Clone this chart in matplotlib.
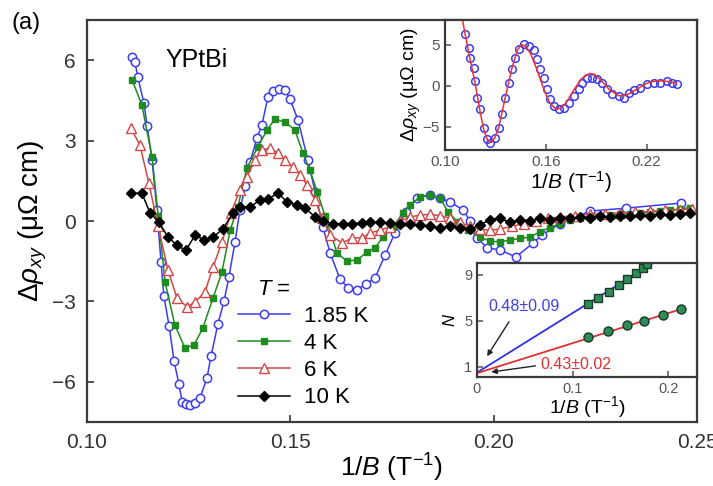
import matplotlib
matplotlib.use('Agg')
import matplotlib.pyplot as plt

plt.rcParams['font.family'] = ['Liberation Sans', 'DejaVu Sans']
plt.rcParams['mathtext.fontset'] = 'custom'
plt.rcParams['mathtext.rm'] = 'Liberation Sans'
plt.rcParams['mathtext.it'] = 'Liberation Sans:italic'

# main panel data, 1/B (T^-1) vs delta rho_xy (uOhm cm)
x_185 = [0.1111, 0.1118, 0.1125, 0.1140, 0.1148, 0.1160, 0.1172, 0.1182, 0.1189, 0.1202,
         0.1214, 0.1226, 0.1234, 0.1243, 0.1253, 0.1266, 0.1278, 0.1295, 0.1305, 0.1322,
         0.1337, 0.1349, 0.1364, 0.1376, 0.1389, 0.1401, 0.1418, 0.1430, 0.1445, 0.1457,
         0.1472, 0.1487, 0.1499, 0.1519, 0.1543, 0.1561, 0.1580, 0.1598, 0.1622, 0.1642,
         0.1664, 0.1686, 0.1708, 0.1733, 0.1757, 0.1784, 0.1811, 0.1843, 0.1868, 0.1893,
         0.1925, 0.1942, 0.1959, 0.1984, 0.2015, 0.2055, 0.2097, 0.2119, 0.2163, 0.2237,
         0.2325, 0.2461]
y_185 = [6.12, 5.93, 5.37, 4.40, 3.54, 2.28, 0.40, -1.52, -2.80, -3.92,
         -5.22, -6.08, -6.75, -6.83, -6.87, -6.79, -6.60, -5.86, -5.04, -3.84,
         -2.99, -2.09, -0.78, 0.40, 1.30, 2.20, 3.10, 3.58, 4.63, 4.85,
         4.93, 4.89, 4.55, 3.77, 2.28, 1.08, -0.22, -1.20, -2.16, -2.50,
         -2.57, -2.35, -2.13, -1.27, -0.45, 0.35, 0.86, 0.97, 0.86, 0.71,
         0.41, 0.00, -0.63, -1.00, -1.08, -1.34, -0.82, -0.52, -0.10, 0.37,
         0.48, 0.67]

x_4 = [0.1111, 0.1135, 0.1160, 0.1175, 0.1192, 0.1216, 0.1241, 0.1263, 0.1285, 0.1310,
       0.1332, 0.1352, 0.1371, 0.1393, 0.1420, 0.1443, 0.1462, 0.1487, 0.1511, 0.1531,
       0.1548, 0.1566, 0.1585, 0.1615, 0.1639, 0.1664, 0.1688, 0.1708, 0.1728, 0.1752,
       0.1777, 0.1794, 0.1819, 0.1843, 0.1868, 0.1888, 0.1912, 0.1937, 0.1966, 0.1991,
       0.2015, 0.2040, 0.2065, 0.2089, 0.2114, 0.2138, 0.2163, 0.2188, 0.2212, 0.2237,
       0.2261, 0.2286, 0.2311, 0.2335, 0.2360, 0.2384, 0.2409, 0.2433, 0.2458, 0.2483]
y_4 = [5.26, 4.33, 2.39, 0.20, -2.28, -3.88, -4.74, -4.63, -3.99, -2.87,
       -1.90, -0.34, 0.52, 1.98, 2.76, 3.40, 3.80, 3.69, 3.40, 2.54,
       1.90, 1.10, 0.20, -1.20, -1.49, -1.46, -1.16, -1.00, -0.60, -0.22,
       0.30, 0.60, 0.90, 0.97, 0.86, 0.34, -0.04, -0.35, -0.60, -0.75,
       -0.78, -0.71, -0.65, -0.60, -0.40, -0.25, -0.10, 0.04, 0.12, 0.18,
       0.20, 0.22, 0.25, 0.28, 0.30, 0.33, 0.37, 0.40, 0.45, 0.50]

x_6 = [0.1108, 0.1130, 0.1152, 0.1175, 0.1199, 0.1221, 0.1246, 0.1266, 0.1290, 0.1310,
       0.1332, 0.1354, 0.1376, 0.1393, 0.1413, 0.1430, 0.1450, 0.1470, 0.1487, 0.1507,
       0.1524, 0.1541, 0.1561, 0.1578, 0.1598, 0.1627, 0.1652, 0.1676, 0.1696, 0.1720,
       0.1745, 0.1770, 0.1794, 0.1819, 0.1843, 0.1868, 0.1893, 0.1917, 0.1942, 0.1966,
       0.1991, 0.2015, 0.2045, 0.2074, 0.2104, 0.2134, 0.2163, 0.2200, 0.2237, 0.2274,
       0.2311, 0.2347, 0.2384, 0.2421, 0.2458, 0.2488]
y_6 = [3.47, 2.84, 1.42, -0.20, -1.83, -2.87, -3.20, -3.02, -2.65, -1.72,
       -0.78, 0.30, 1.16, 1.64, 2.28, 2.65, 2.72, 2.54, 2.28, 2.01,
       1.72, 1.34, 0.78, 0.10, -0.52, -0.82, -0.63, -0.63, -0.45, -0.34,
       -0.22, 0.00, 0.15, 0.22, 0.25, 0.20, 0.10, -0.05, -0.20, -0.30,
       -0.35, -0.30, -0.20, -0.10, 0.00, 0.10, 0.15, 0.20, 0.25, 0.28,
       0.30, 0.33, 0.36, 0.40, 0.42, 0.45]

x_10 = [0.1108, 0.1135, 0.1155, 0.1177, 0.1199, 0.1221, 0.1243, 0.1266, 0.1288, 0.1310,
        0.1334, 0.1359, 0.1376, 0.1401, 0.1425, 0.1445, 0.1470, 0.1492, 0.1516, 0.1536,
        0.1561, 0.1580, 0.1605, 0.1629, 0.1652, 0.1676, 0.1696, 0.1720, 0.1745, 0.1770,
        0.1794, 0.1819, 0.1843, 0.1868, 0.1893, 0.1917, 0.1942, 0.1966, 0.1991, 0.2015,
        0.2040, 0.2065, 0.2089, 0.2114, 0.2138, 0.2163, 0.2188, 0.2212, 0.2237, 0.2261,
        0.2286, 0.2311, 0.2335, 0.2360, 0.2384, 0.2409, 0.2433, 0.2458, 0.2483]
y_10 = [1.04, 1.04, 0.30, -0.04, -0.60, -0.90, -1.10, -0.52, -0.71, -0.60,
        -0.30, 0.30, 0.52, 0.52, 0.78, 0.82, 1.04, 0.71, 0.60, 0.49,
        0.15, 0.00, -0.11, -0.10, -0.10, -0.08, -0.05, -0.05, -0.08, -0.10,
        -0.12, -0.15, -0.20, -0.25, -0.20, -0.25, -0.30, -0.15, 0.05, 0.10,
        -0.05, 0.05, 0.00, 0.10, 0.05, 0.12, 0.10, 0.15, 0.12, 0.18,
        0.15, 0.20, 0.18, 0.22, 0.20, 0.25, 0.22, 0.28, 0.30]

labels = ['1.85 K', '4 K', '6 K', '10 K']

# upper inset: 1.85 K data and LK fit
ins_x = [0.1119, 0.1143, 0.1149, 0.1172, 0.1178, 0.1190, 0.1208, 0.1232, 0.1250, 0.1267,
         0.1297, 0.1321, 0.1339, 0.1357, 0.1380, 0.1398, 0.1416, 0.1440, 0.1469, 0.1499,
         0.1529, 0.1547, 0.1564, 0.1588, 0.1606, 0.1624, 0.1648, 0.1677, 0.1707, 0.1737,
         0.1767, 0.1796, 0.1814, 0.1844, 0.1873, 0.1903, 0.1933, 0.1963, 0.1992, 0.2034,
         0.2064, 0.2093, 0.2123, 0.2159, 0.2200, 0.2242, 0.2278, 0.2319, 0.2349, 0.2378]
ins_y = [6.3, 4.6, 3.4, 2.2, 0.6, -1.5, -2.8, -5.1, -6.5, -6.9,
         -6.3, -5.1, -3.4, -1.5, 0.4, 2.1, 3.4, 4.5, 5.1, 4.9,
         4.3, 3.3, 2.1, 0.9, -0.4, -1.6, -2.4, -2.8, -2.7, -2.1,
         -1.2, -0.4, 0.4, 1.0, 1.0, 0.85, 0.4, -0.4, -1.0, -1.2,
         -1.46, -0.85, -0.5, -0.25, 0.24, 0.37, 0.37, 0.6, 0.37, 0.24]
fit_x = [0.1105, 0.1119, 0.1149, 0.1178, 0.1208, 0.1232, 0.1255, 0.1275, 0.1297, 0.1321,
         0.1357, 0.1398, 0.1430, 0.1455, 0.1480, 0.1510, 0.1547, 0.1588, 0.1624, 0.1660,
         0.1690, 0.1720, 0.1767, 0.1814, 0.1860, 0.1890, 0.1933, 0.1980, 0.2034, 0.2070,
         0.2110, 0.2159, 0.2200, 0.2242, 0.2290, 0.2335, 0.2378]
fit_y = [8.0, 6.4, 3.3, 0.5, -3.0, -5.4, -6.7, -6.9, -6.3, -5.0,
         -1.6, 2.1, 4.3, 5.0, 4.8, 3.9, 2.0, -0.4, -2.1, -2.8,
         -2.7, -2.1, -0.5, 0.9, 1.5, 1.4, 0.6, -0.5, -1.2, -1.2,
         -0.8, -0.2, 0.3, 0.55, 0.6, 0.5, 0.35]

# lower inset: Landau level index N vs 1/B
ll_x_sq = [0.1156, 0.127, 0.1375, 0.148, 0.157, 0.166, 0.174, 0.178]
ll_n_sq = [6.4, 7.0, 7.5, 8.1, 8.6, 9.1, 9.6, 9.9]
ll_x_ci = [0.1156, 0.1365, 0.157, 0.175, 0.194, 0.2135]
ll_n_ci = [3.6, 4.1, 4.6, 5.0, 5.5, 6.0]
line_x_sq = [0.0, 0.184]
line_n_sq = [0.48, 10.0]
line_x_ci = [0.0, 0.2135]
line_n_ci = [0.43, 6.0]

blue = '#3c3cf0'
green = '#1e8c1e'
red = '#d04848'
spine_c = '#3a3a3a'

fig = plt.figure(figsize=(7.13, 4.86), dpi=100)
ax = fig.add_axes([0.122, 0.1317, 0.8556, 0.8271])

ax.plot(x_185, y_185, '-o', color=blue, mfc='white', mec=blue, ms=6, lw=1.1, mew=1.1, label=labels[0])
ax.plot(x_4, y_4, '-s', color=green, mfc=green, mec=green, ms=5, lw=1.1, label=labels[1])
ax.plot(x_6, y_6, '-^', color=red, mfc='white', mec=red, ms=6.5, lw=1.1, mew=1.0, label=labels[2])
ax.plot(x_10, y_10, '-D', color='black', mfc='black', ms=5, lw=1.1, label=labels[3])

ax.set_xlim(0.10, 0.25)
ax.set_ylim(-7.5, 7.5)
ax.set_xticks([0.10, 0.15, 0.20, 0.25])
ax.set_xticklabels(['0.10', '0.15', '0.20', '0.25'])
ax.set_yticks([-6, -3, 0, 3, 6])
ax.tick_params(direction='in', length=5, width=1.2, labelsize=15, colors='#333333', pad=8)
for s in ax.spines.values():
    s.set_color(spine_c)
    s.set_linewidth(1.6)
ax.set_xlabel('1/$\\mathit{B}$ (T$^{-1}$)', fontsize=19, labelpad=0)
ax.set_ylabel('$\\mathit{Δρ}_{xy}$ (μΩ cm)', fontsize=20, labelpad=2)

ax.text(0.1192, 6.0, 'YPtBi', fontsize=18, va='center', ha='left')
fig.text(0.016, 0.953, '(a)', fontsize=17, va='center', ha='left')
ax.text(0.1418, -2.55, '$\\mathit{T}$ =', fontsize=16, va='center', ha='left')
ax.legend(loc='upper left', bbox_to_anchor=(0.2475, 0.289), frameon=False, fontsize=16,
          handlelength=2.35, handletextpad=0.6, labelspacing=0.28, borderpad=0, borderaxespad=0)

# upper inset
ax1 = fig.add_axes([0.624, 0.6914, 0.3536, 0.2674])
ax1.plot(ins_x, ins_y, 'o', mfc='none', mec=blue, ms=5.5, mew=1.1)
ax1.plot(fit_x, fit_y, '-', color='#f03030', lw=1.1)
ax1.set_xlim(0.10, 0.25)
ax1.set_ylim(-7.8, 8.0)
ax1.set_xticks([0.10, 0.16, 0.22])
ax1.set_xticklabels(['0.10', '0.16', '0.22'])
ax1.set_yticks([-5, 0, 5])
ax1.tick_params(direction='in', length=4, width=1.1, labelsize=11, colors='#555555')
for s in ax1.spines.values():
    s.set_color(spine_c)
    s.set_linewidth(1.6)
ax1.set_xlabel('1/$\\mathit{B}$ (T$^{-1}$)', fontsize=15, labelpad=0)
ax1.set_ylabel('$\\mathit{Δρ}_{xy}$ (μΩ cm)', fontsize=14, labelpad=0)

# lower inset
ax2 = fig.add_axes([0.669, 0.2243, 0.3086, 0.2345])
ax2.plot(line_x_sq, line_n_sq, '-', color='#3030e0', lw=1.3)
ax2.plot(line_x_ci, line_n_ci, '-', color='#e03030', lw=1.3)
ax2.plot(ll_x_sq, ll_n_sq, 's', mfc='#2e8b57', mec='#1a3a2a', ms=6, mew=1.0)
ax2.plot(ll_x_ci, ll_n_ci, 'o', mfc='#2e8b57', mec='#1a3a2a', ms=6.5, mew=1.0)
ax2.set_xlim(0, 0.23)
ax2.set_ylim(0.1, 10.0)
ax2.set_xticks([0, 0.1, 0.2])
ax2.set_xticklabels(['0', '0.1', '0.2'])
ax2.set_yticks([1, 5, 9])
ax2.tick_params(direction='in', length=4, width=1.1, labelsize=10.5, colors='#555555')
for s in ax2.spines.values():
    s.set_color(spine_c)
    s.set_linewidth(1.6)
ax2.set_xlabel('1/$\\mathit{B}$ (T$^{-1}$)', fontsize=14, labelpad=-1)
ax2.set_ylabel('$\\mathit{N}$', fontsize=12, labelpad=4)
ax2.text(0.0115, 6.2, '0.48±0.09', color='#4040e0', fontsize=11.5, va='center', ha='left')
ax2.text(0.066, 1.2, '0.43±0.02', color='#e03030', fontsize=11.5, va='center', ha='left')
ax2.annotate('', xy=(0.009, 1.7), xytext=(0.035, 5.1),
             arrowprops=dict(arrowstyle='-|>', color='#222222', lw=1.0, mutation_scale=8))
ax2.annotate('', xy=(0.012, 0.5), xytext=(0.064, 1.1),
             arrowprops=dict(arrowstyle='-|>', color='#222222', lw=1.0, mutation_scale=8))

fig.savefig('out.png', dpi=100)
